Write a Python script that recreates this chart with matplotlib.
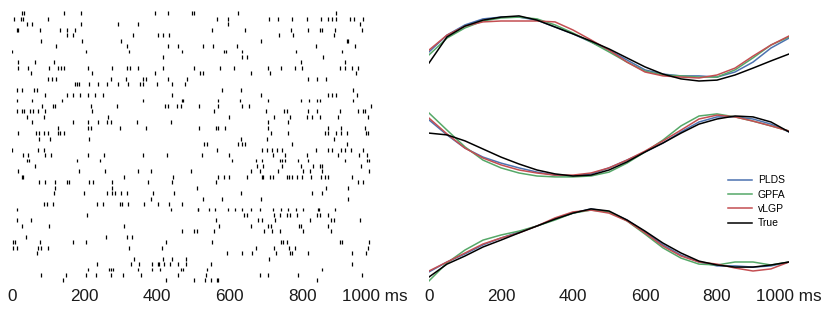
import numpy as np
import matplotlib
matplotlib.use("Agg")
import matplotlib.pyplot as plt

plt.rcParams['font.family'] = ['Liberation Sans', 'DejaVu Sans']

# ---------------- spike raster (ms), one list per neuron, top to bottom ----------------
spikes = [
    [29, 35, 145, 191, 394, 429, 495, 503, 622, 893],
    [7, 26, 32, 101, 565, 594, 709, 732, 772, 812, 851, 870, 881, 894, 931, 943, 968],
    [41, 55, 191, 293, 347, 596, 959],
    [14, 18, 78, 133, 151, 174, 552, 642, 769, 815, 849, 853, 890, 965],
    [151, 170, 335, 402, 417, 433, 736, 775, 888],
    [82, 193, 301, 686, 922, 927],
    [121, 316, 431, 459, 527, 555, 619, 837, 945],
    [2, 204, 323, 468, 583, 589, 635, 782, 908],
    [417, 635, 647, 858],
    [18, 64, 117, 796, 917],
    [18, 44, 103, 128, 136, 145, 209, 277, 316, 326, 349, 417, 503, 573, 613, 706, 741, 780, 798, 904, 917, 936, 952],
    [53, 222, 394, 518, 527, 660, 711, 947],
    [99, 110, 121, 273, 314, 362, 371, 429, 482, 815, 839, 864],
    [174, 179, 185, 213, 238, 261, 293, 319, 353, 362, 399, 440, 477],
    [14, 29, 62, 69, 578, 631, 940],
    [93, 151, 170, 188, 211, 229, 250, 440, 686, 872, 881, 894, 950],
    [14, 55, 138, 362, 468, 472, 567, 628, 706, 796, 818, 839, 849, 940],
    [84, 115, 119, 218, 289, 422, 429, 454, 466, 516, 569, 635, 653, 989],
    [14, 29, 35, 50, 60, 73, 93, 222, 558, 699, 750, 757, 815, 839, 904, 954, 968, 972],
    [41, 90, 266, 598, 723, 766, 812, 826, 849, 899, 982],
    [57, 170, 211, 238, 261, 273, 344, 438, 706, 760],
    [128, 211, 218, 298, 371, 516, 561, 567, 587, 706, 870, 906, 972],
    [16, 66, 75, 90, 99, 128, 133, 145, 714, 760, 861, 870, 893, 906, 922, 974, 980],
    [75, 105, 213, 631, 702, 888],
    [530, 537, 624, 633, 642, 771, 922],
    [2, 73, 90, 564, 688, 702, 716, 729, 743, 837, 872, 881, 906, 917, 934, 968],
    [32, 46, 93, 108, 209, 255, 362, 427, 523, 598, 720, 752, 812, 899, 956, 977],
    [41, 48, 179, 243, 607, 672, 688, 738, 745, 752, 789, 816, 917, 977, 983],
    [64, 674, 693, 743, 796, 830, 849, 853, 961],
    [18, 185, 257, 347, 383, 494, 659, 683, 732, 803, 821, 853, 983],
    [27, 32, 310, 443, 567, 583, 598, 647, 690, 693, 711, 720, 757, 763, 772, 784, 798, 824, 851, 861, 870, 936],
    [75, 93, 119, 151, 158, 213, 225, 275, 374, 442, 561, 952, 968],
    [119, 277, 509, 864, 927],
    [117, 200, 261, 275, 284, 301, 316, 390, 448, 631, 826, 855],
    [383, 527, 578, 686, 927],
    [90, 96, 115, 234, 252, 298, 304, 321, 365, 402, 433, 468],
    [14, 438, 512, 514, 543, 560, 596, 615, 633, 659, 683, 720, 741, 760, 782, 803, 842, 846, 890],
    [206, 640, 647, 723, 738, 757, 766, 784, 839, 849, 872],
    [14, 53, 561, 677, 688, 725, 821, 879, 888, 959],
    [27, 103, 310, 571, 660, 706, 714, 791, 796, 872],
    [468, 503, 509, 558, 695, 717, 738, 803, 879],
    [38, 259, 316, 332],
    [4, 9, 78, 170, 204, 424, 552, 741, 748, 757, 904, 910, 983],
    [4, 14, 73, 81, 99, 323, 415, 672, 723, 763, 780, 980],
    [69, 592, 635, 662, 727, 766, 772, 816, 938, 974],
    [338, 417, 442, 479, 708],
    [234, 328, 350, 385, 402, 405, 420, 436, 459, 479, 549, 936],
    [209, 268, 273, 280, 349, 385, 408, 466, 472, 537, 853],
    [82, 149, 204, 231, 273, 307, 356, 457, 534, 683, 706, 789, 965],
    [142, 424, 503, 532, 549, 564, 569, 839],
]

# ---------------- latent trajectories (sampled every 50 ms) ----------------
t = [0, 50, 100, 150, 200, 250, 300, 350, 400, 450, 500,
     550, 600, 650, 700, 750, 800, 850, 900, 950, 1000]

top_true = [-0.50, 0.37, 0.73, 0.93, 1.03, 1.07, 0.93, 0.70, 0.47, 0.23, -0.03,
            -0.33, -0.63, -0.87, -1.03, -1.10, -1.07, -0.90, -0.67, -0.43, -0.20]
top_plds = [-0.13, 0.43, 0.77, 0.97, 1.03, 1.03, 0.93, 0.70, 0.47, 0.20, -0.07,
            -0.40, -0.73, -0.87, -0.93, -0.93, -0.97, -0.80, -0.47, 0.00, 0.33]
top_gpfa = [-0.23, 0.33, 0.67, 0.90, 1.00, 1.03, 0.97, 0.77, 0.50, 0.20, -0.13,
            -0.47, -0.77, -0.90, -0.93, -0.97, -0.97, -0.73, -0.33, 0.10, 0.37]
top_vlgp = [-0.07, 0.43, 0.73, 0.87, 0.90, 0.90, 0.90, 0.87, 0.60, 0.27, -0.07,
            -0.47, -0.80, -0.93, -0.97, -1.00, -0.90, -0.67, -0.27, 0.10, 0.40]

mid_true = [0.43, 0.37, 0.17, -0.10, -0.37, -0.60, -0.80, -0.93, -1.00, -0.97, -0.80,
            -0.53, -0.20, 0.10, 0.43, 0.73, 0.90, 1.00, 0.97, 0.80, 0.47]
mid_plds = [0.87, 0.37, -0.07, -0.37, -0.57, -0.73, -0.87, -0.97, -1.00, -0.93, -0.73,
            -0.47, -0.20, 0.10, 0.47, 0.80, 0.97, 0.97, 0.90, 0.73, 0.47]
mid_gpfa = [1.10, 0.53, -0.03, -0.47, -0.73, -0.90, -1.00, -1.03, -1.03, -1.00, -0.87,
            -0.57, -0.20, 0.20, 0.67, 1.00, 1.07, 0.97, 0.83, 0.67, 0.50]
mid_vlgp = [0.93, 0.40, -0.07, -0.40, -0.63, -0.80, -0.90, -0.97, -0.97, -0.90, -0.73,
            -0.47, -0.17, 0.17, 0.53, 0.90, 1.03, 0.97, 0.83, 0.67, 0.50]

bot_true = [-1.10, -0.67, -0.40, -0.10, 0.13, 0.37, 0.60, 0.83, 1.03, 1.17, 1.10,
            0.80, 0.43, 0.03, -0.30, -0.57, -0.70, -0.77, -0.77, -0.70, -0.60]
bot_plds = [-0.93, -0.60, -0.33, -0.03, 0.20, 0.40, 0.60, 0.83, 1.03, 1.17, 1.07,
            0.80, 0.40, -0.03, -0.37, -0.60, -0.73, -0.73, -0.77, -0.73, -0.60]
bot_gpfa = [-1.23, -0.63, -0.20, 0.13, 0.30, 0.43, 0.60, 0.80, 1.03, 1.13, 1.07,
            0.77, 0.33, -0.13, -0.47, -0.67, -0.70, -0.60, -0.60, -0.70, -0.60]
bot_vlgp = [-0.90, -0.60, -0.30, 0.00, 0.20, 0.37, 0.60, 0.87, 1.07, 1.13, 1.03,
            0.77, 0.37, -0.07, -0.40, -0.60, -0.67, -0.80, -0.90, -0.83, -0.60]

methods = ["PLDS", "GPFA", "vLGP", "True"]
colors = ["#4C72B0", "#55A868", "#C44E52", "black"]
panels = [
    [top_plds, top_gpfa, top_vlgp, top_true],
    [mid_plds, mid_gpfa, mid_vlgp, mid_true],
    [bot_plds, bot_gpfa, bot_vlgp, bot_true],
]
tick_vals = [0, 200, 400, 600, 800, 1000]
tick_labels = ["0", "200", "400", "600", "800", "1000 ms"]

W, H = 830, 312
fig = plt.figure(figsize=(W / 100, H / 100), dpi=100)

def px_axes(x0, y0, x1, y1):
    ax = fig.add_axes([x0 / W, 1 - y1 / H, (x1 - x0) / W, (y1 - y0) / H])
    ax.patch.set_visible(False)
    return ax

def clean(ax, show_ticks):
    for s in ax.spines.values():
        s.set_visible(False)
    ax.set_yticks([])
    ax.set_xlim(0, 1000)
    if show_ticks:
        ax.set_xticks(tick_vals)
        ax.set_xticklabels(tick_labels)
        ax.tick_params(axis='x', length=0, pad=4, labelsize=12.3, colors='#1a1a1a')
    else:
        ax.set_xticks([])

# raster
axr = px_axes(11.7, 10.6, 375, 283.1)
axr.eventplot(spikes, lineoffsets=np.arange(len(spikes)), linelengths=0.72,
              colors='black', linewidths=0.9)
axr.set_ylim(len(spikes) - 0.5, -0.5)
clean(axr, True)

# trajectories
centers = [48, 146, 244]
half = 39
handles = []
for i, (c, curves) in enumerate(zip(centers, panels)):
    ax = px_axes(429, c - half, 789, c + half)
    for name, col, vals in zip(methods, colors, curves):
        ln, = ax.plot(t, vals, color=col, lw=1.1, label=name)
        if i == 0:
            handles.append(ln)
    ax.set_ylim(-1.3, 1.3)
    clean(ax, i == 2)

fig.legend(handles, methods, loc='upper left', bbox_to_anchor=(723 / W, 1 - 170 / H),
           frameon=False, fontsize=7.5, handlelength=2.3, handletextpad=0.55,
           labelspacing=0.42, borderpad=0)

fig.savefig("out.png", dpi=100)
